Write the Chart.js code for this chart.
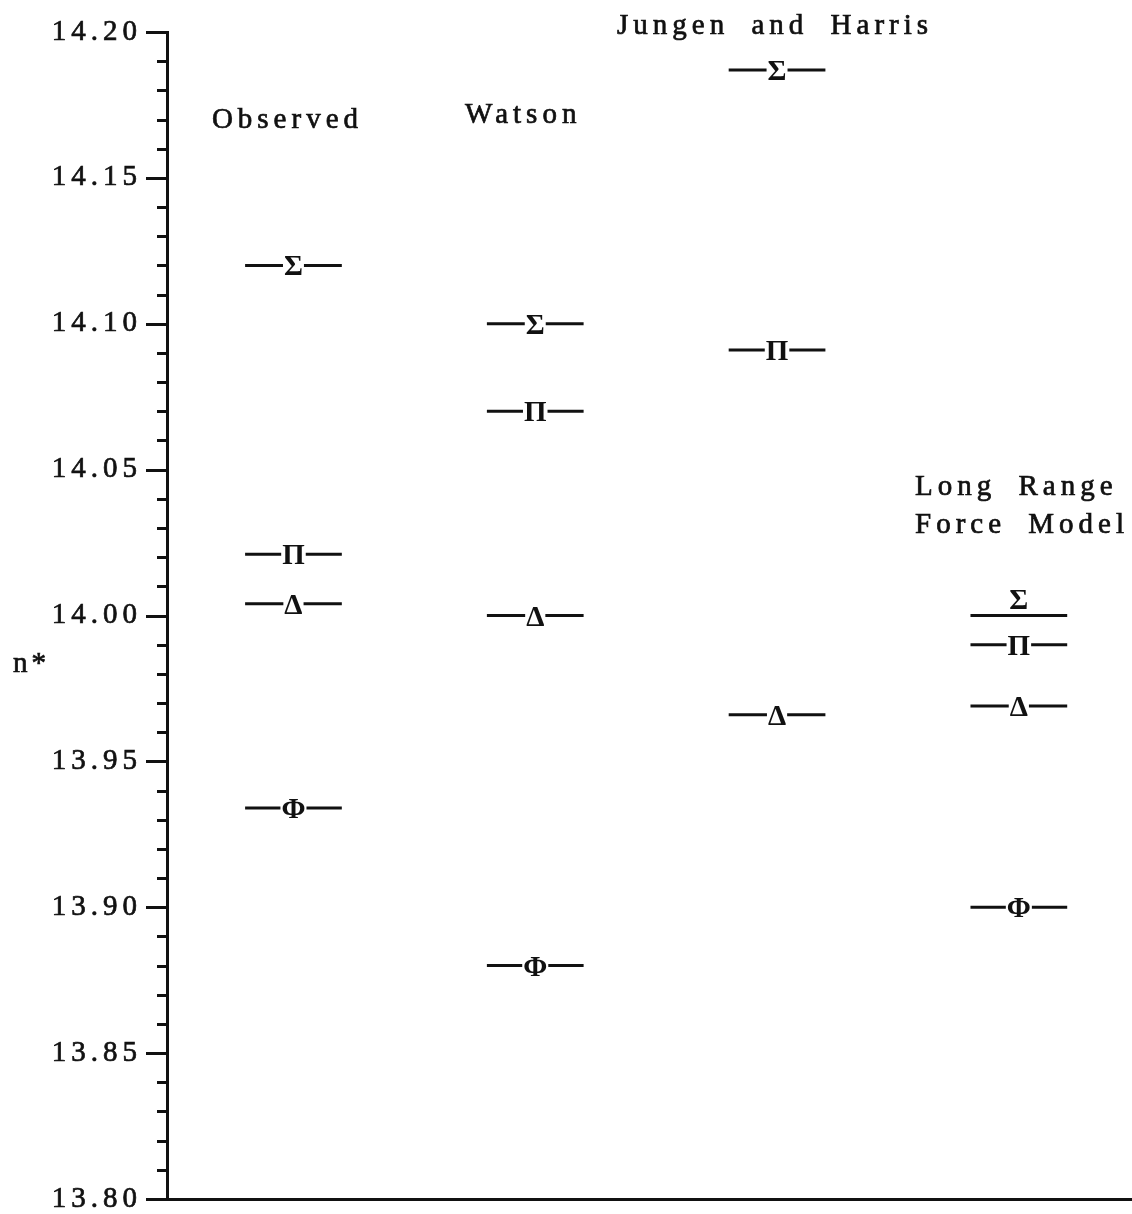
<!DOCTYPE html>
<html>
<head>
<meta charset="utf-8">
<style>
  html, body { margin: 0; padding: 0; background: #fff; }
  #wrap { width: 1132px; height: 1214px; position: relative; }
</style>
<script src="https://cdn.jsdelivr.net/npm/chart.js@4.4.1/dist/chart.umd.min.js"></script>
</head>
<body>
<div id="wrap"><canvas id="c" width="1132" height="1214"></canvas></div>
<script>
// ---- Data ----
const columns = ['Observed', 'Watson', 'Jungen and Harris', 'Long Range Force Model'];
const states = ['Σ', 'Π', 'Δ', 'Φ'];
const observed = [14.120, 14.021, 14.004, 13.934];
const watson = [14.100, 14.070, 14.000, 13.880];
const jungenHarris = [14.187, 14.091, 13.966, null];
const longRange = [14.000, 13.990, 13.969, 13.900];
const yTickLabels = ['13.80', '13.85', '13.90', '13.95', '14.00', '14.05', '14.10', '14.15', '14.20'];
const yAxisTitle = 'n*';

const seriesValues = [observed, watson, jungenHarris, longRange];

// ---- Style constants ----
const HALF = 0.2;           // half-width of a level line, in column units
const INK = '#111';
const FONT = "'Liberation Serif', 'DejaVu Serif', serif";

const datasets = [];
seriesValues.forEach((vals, ci) => {
  vals.forEach((v, si) => {
    if (v === null) return;
    datasets.push({
      label: columns[ci] + ' ' + states[si],
      data: [{x: ci - HALF, y: v}, {x: ci + HALF, y: v}],
      borderColor: INK,
      borderWidth: 3,
      pointRadius: 0,
      showLine: true,
      fill: false,
      _col: ci,
      _state: si
    });
  });
});

function strokedText(ctx, txt, x, y) {
  ctx.fillText(txt, x, y);
  ctx.strokeText(txt, x, y);
}

const decorPlugin = {
  id: 'decor',
  beforeDraw(chart) {
    chart.ctx.letterSpacing = '5px';
  },
  afterDraw(chart) {
    const ctx = chart.ctx;
    const xs = chart.scales.x, ys = chart.scales.y;
    const left = chart.chartArea.left;
    ctx.save();
    // y-axis tick marks (major every 0.05, minor every 0.01)
    ctx.strokeStyle = INK;
    ctx.lineWidth = 3;
    for (let k = 0; k <= 40; k++) {
      const v = 13.8 + k * 0.01;
      const y = Math.round(ys.getPixelForValue(v)) + 0.5;
      const len = (k % 5 === 0) ? 21 : 10;
      ctx.beginPath();
      ctx.moveTo(left - len, y);
      ctx.lineTo(left, y);
      ctx.stroke();
    }
    // axis title
    ctx.fillStyle = INK;
    ctx.lineWidth = 0.7;
    ctx.font = '29px ' + FONT;
    ctx.letterSpacing = '4px';
    ctx.textAlign = 'left';
    ctx.textBaseline = 'middle';
    strokedText(ctx, yAxisTitle, 13, 664);

    // column titles
    ctx.letterSpacing = '5px';
    ctx.textAlign = 'center';
    ctx.textBaseline = 'alphabetic';
    strokedText(ctx, columns[0], xs.getPixelForValue(0) - 6, 128);
    strokedText(ctx, columns[1], xs.getPixelForValue(1) - 12, 123);
    ctx.wordSpacing = '10px';
    strokedText(ctx, columns[2], xs.getPixelForValue(2) - 2, 34);
    ctx.textAlign = 'left';
    const lr = columns[3].split(' ');
    strokedText(ctx, lr[0] + ' ' + lr[1], 915, 495);
    strokedText(ctx, lr[2] + ' ' + lr[3], 915, 533);
    ctx.wordSpacing = '0px';

    // state symbols on each level
    ctx.letterSpacing = '0px';
    ctx.font = 'bold 29px ' + FONT;
    ctx.textAlign = 'center';
    chart.data.datasets.forEach(ds => {
      const v = ds.data[0].y;
      const cx = xs.getPixelForValue(ds._col);
      const y = ys.getPixelForValue(v);
      const sym = states[ds._state];
      const w = ctx.measureText(sym).width;
      if (ds._col === 3 && ds._state === 0) {
        ctx.fillStyle = INK;
        ctx.fillText(sym, cx, y - 7);
        return;
      }
      ctx.fillStyle = '#fff';
      ctx.fillRect(cx - w / 2 - 1, y - 5, w + 2, 10);
      ctx.fillStyle = INK;
      ctx.fillText(sym, cx, y + 10);
    });
    ctx.restore();
  }
};

new Chart(document.getElementById('c'), {
  type: 'scatter',
  data: { datasets },
  options: {
    responsive: false,
    animation: false,
    events: [],
    layout: { padding: { top: 32, bottom: 15, left: 0, right: 0 } },
    plugins: { legend: { display: false }, tooltip: { enabled: false }, title: { display: false } },
    scales: {
      x: {
        type: 'linear',
        min: -0.523,
        max: 3.468,
        ticks: { display: false },
        grid: { display: false, drawTicks: false },
        border: { display: true, color: INK, width: 3 },
        afterFit(scale) {
          scale.height = 0;
          scale.paddingLeft = 0; scale.paddingRight = 0;
          scale.paddingTop = 0; scale.paddingBottom = 0;
        }
      },
      y: {
        type: 'linear',
        min: 13.8,
        max: 14.2,
        afterBuildTicks(scale) {
          scale.ticks = yTickLabels.map(t => ({ value: parseFloat(t) }));
        },
        ticks: {
          color: INK,
          padding: 25,
          textStrokeColor: INK,
          textStrokeWidth: 0.7,
          font: { family: FONT, size: 29 },
          callback(value) {
            const i = yTickLabels.findIndex(t => Math.abs(parseFloat(t) - value) < 1e-6);
            return i >= 0 ? yTickLabels[i] : '';
          }
        },
        grid: { display: false, drawTicks: false },
        border: { display: true, color: INK, width: 3 },
        afterFit(scale) {
          scale.width = 167;
          scale.paddingTop = 0; scale.paddingBottom = 0;
          scale.paddingLeft = 0; scale.paddingRight = 0;
        }
      }
    }
  },
  plugins: [decorPlugin]
});
</script>
</body>
</html>
